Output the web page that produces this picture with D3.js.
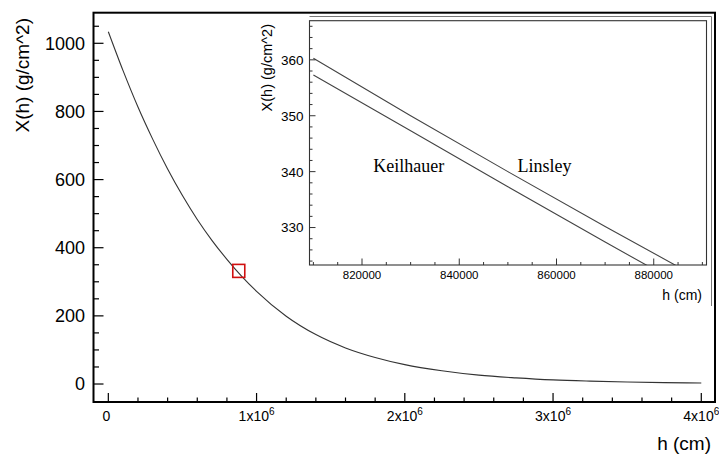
<!DOCTYPE html>
<html>
<head>
<meta charset="utf-8">
<script src="https://cdnjs.cloudflare.com/ajax/libs/d3/7.8.5/d3.min.js"></script>
<style>
  body { margin: 0; background: #fff; }
  svg { display: block; }
  .sans { font-family: "Liberation Sans", Arial, Helvetica, sans-serif; }
  .serif { font-family: "Liberation Serif", "Times New Roman", serif; }
</style>
</head>
<body>
<div id="chart"></div>
<script>
// atmospheric depth X(h) vs altitude h

// main curve
const heights = [0, 1e5, 2e5, 3e5, 4e5, 5e5, 6e5, 7e5, 8e5, 9e5, 1e6,
    1.2e6, 1.4e6, 1.6e6, 1.8e6, 2e6, 2.25e6, 2.5e6, 2.75e6, 3e6, 3.25e6, 3.5e6, 3.75e6, 4e6];
const depths = [1034, 919, 813, 718, 631, 553, 483, 421, 366, 316, 272,
    199, 145, 106, 78, 57, 39, 26, 18, 12, 8.5, 6, 4.2, 3];

// inset (zoom on the red box)
const insetHeights = [810000, 830000, 850000, 870000, 890000];
const linsleyDepths = [360.3, 350.0, 340.0, 330.2, 320.6];
const keilhauerDepths = [357.3, 347.3, 337.3, 327.4, 317.7];
const insetLabels = [
    { name: 'Keilhauer', h: 822300, x: 340 },
    { name: 'Linsley', h: 852000, x: 340 }
];

// red marker on the main curve
const markerPoint = { h: 880000, x: 332 };

// tick values
const xMajorTicks = [0, 1e6, 2e6, 3e6, 4e6];
const yMajorTicks = [0, 200, 400, 600, 800, 1000];
const insetXMajorTicks = [820000, 840000, 860000, 880000];
const insetYMajorTicks = [330, 340, 350, 360];

const W = 719, H = 457;

const svg = d3.select('#chart').append('svg')
    .attr('width', W)
    .attr('height', H)
    .attr('class', 'sans');

svg.append('rect').attr('width', W).attr('height', H).attr('fill', '#fff');

// ---------- main plot ----------
const frame = { left: 93.5, right: 715, top: 12.7, bottom: 402 };

const x = d3.scaleLinear().domain([-0.1e6, 4.0925e6]).range([frame.left, frame.right]);
const y = d3.scaleLinear().domain([-52.8, 1089.8]).range([frame.bottom, frame.top]);

const main = svg.append('g');

// minor ticks built from the major spacing
const xMinor = d3.range(0, 4.0001e6, 0.2e6).filter(v => !xMajorTicks.includes(Math.round(v)));
const yMinor = d3.range(0, 1089, 50).filter(v => !yMajorTicks.includes(v));

// x ticks (drawn inside, pointing up)
main.selectAll('.xmaj').data(xMajorTicks).enter().append('line')
    .attr('x1', d => x(d)).attr('x2', d => x(d))
    .attr('y1', frame.bottom).attr('y2', frame.bottom - 9)
    .attr('stroke', '#000').attr('stroke-width', 1.2);
main.selectAll('.xmin').data(xMinor).enter().append('line')
    .attr('x1', d => x(d)).attr('x2', d => x(d))
    .attr('y1', frame.bottom).attr('y2', frame.bottom - 4.5)
    .attr('stroke', '#000').attr('stroke-width', 1.2);

// y ticks
main.selectAll('.ymaj').data(yMajorTicks).enter().append('line')
    .attr('x1', frame.left).attr('x2', frame.left + 10)
    .attr('y1', d => y(d)).attr('y2', d => y(d))
    .attr('stroke', '#000').attr('stroke-width', 1.2);
main.selectAll('.ymin').data(yMinor).enter().append('line')
    .attr('x1', frame.left).attr('x2', frame.left + 5.5)
    .attr('y1', d => y(d)).attr('y2', d => y(d))
    .attr('stroke', '#000').attr('stroke-width', 1.2);

// y tick labels
main.selectAll('.ylab').data(yMajorTicks).enter().append('text')
    .attr('x', 85)
    .attr('y', d => y(d))
    .attr('dy', '0.36em')
    .attr('text-anchor', 'end')
    .attr('font-size', 18)
    .text(d => d);

// x tick labels, "Nx10^6"
main.selectAll('.xlab').data(xMajorTicks).enter().append('text')
    .attr('x', d => x(d) - (d === 0 ? 2 : 0))
    .attr('y', 421)
    .attr('text-anchor', 'middle')
    .attr('font-size', 14)
    .each(function(d) {
        const t = d3.select(this);
        if (d === 0) { t.text('0'); return; }
        t.append('tspan').text(`${d / 1e6}x10`);
        t.append('tspan').attr('dy', -6).attr('font-size', 10).text('6');
    });

// axis titles
main.append('text')
    .attr('x', 711).attr('y', 450)
    .attr('text-anchor', 'end')
    .attr('font-size', 19)
    .text('h (cm)');
main.append('text')
    .attr('transform', 'translate(28.5,18) rotate(-90)')
    .attr('text-anchor', 'end')
    .attr('font-size', 19)
    .text('X(h) (g/cm^2)');

// the curve
const mainLine = d3.line()
    .x((d, i) => x(heights[i]))
    .y(d => y(d))
    .curve(d3.curveMonotoneX);
main.append('path')
    .attr('d', mainLine(depths))
    .attr('fill', 'none')
    .attr('stroke', '#333')
    .attr('stroke-width', 1.1);

// red box marking the zoomed region
main.append('rect')
    .attr('x', x(markerPoint.h) - 6)
    .attr('y', y(markerPoint.x) - 6.5)
    .attr('width', 12)
    .attr('height', 13)
    .attr('fill', 'none')
    .attr('stroke', '#d01010')
    .attr('stroke-width', 1.6);

// ---------- inset ----------
const inFrame = { left: 309.5, right: 706.5, top: 20.7, bottom: 265 };

const ix = d3.scaleLinear().domain([809200, 890850]).range([inFrame.left, inFrame.right]);
const iy = d3.scaleLinear().domain([323.3, 367.0]).range([inFrame.bottom, inFrame.top]);

const inset = svg.append('g');

// pad background and its border
inset.append('rect')
    .attr('x', inFrame.left).attr('y', 16.5)
    .attr('width', 711.5 - inFrame.left).attr('height', 306 - 16.5)
    .attr('fill', '#fff');
inset.append('path')
    .attr('d', `M${inFrame.left},16.5 H711.5 V306`)
    .attr('fill', 'none')
    .attr('stroke', '#777')
    .attr('stroke-width', 1);

svg.append('clipPath').attr('id', 'inset-clip')
    .append('rect')
    .attr('x', inFrame.left).attr('y', inFrame.top)
    .attr('width', inFrame.right - inFrame.left)
    .attr('height', inFrame.bottom - inFrame.top);

const insetLine = d3.line()
    .x((d, i) => ix(insetHeights[i]))
    .y(d => iy(d));

[linsleyDepths, keilhauerDepths].forEach(series => {
    inset.append('path')
        .attr('d', insetLine(series))
        .attr('clip-path', 'url(#inset-clip)')
        .attr('fill', 'none')
        .attr('stroke', '#444')
        .attr('stroke-width', 1.1);
});

// inset frame
inset.append('rect')
    .attr('x', inFrame.left).attr('y', inFrame.top)
    .attr('width', inFrame.right - inFrame.left)
    .attr('height', inFrame.bottom - inFrame.top)
    .attr('fill', 'none')
    .attr('stroke', '#333')
    .attr('stroke-width', 1.1);

const ixMinor = d3.range(810000, 890001, 5000).filter(v => !insetXMajorTicks.includes(v));
const iyMinor = d3.range(324, 367, 2).filter(v => !insetYMajorTicks.includes(v));

inset.selectAll('.ixmaj').data(insetXMajorTicks).enter().append('line')
    .attr('x1', d => ix(d)).attr('x2', d => ix(d))
    .attr('y1', inFrame.bottom).attr('y2', inFrame.bottom - 6.5)
    .attr('stroke', '#333');
inset.selectAll('.ixmin').data(ixMinor).enter().append('line')
    .attr('x1', d => ix(d)).attr('x2', d => ix(d))
    .attr('y1', inFrame.bottom).attr('y2', inFrame.bottom - 3)
    .attr('stroke', '#333');
inset.selectAll('.iymaj').data(insetYMajorTicks).enter().append('line')
    .attr('x1', inFrame.left).attr('x2', inFrame.left + 6)
    .attr('y1', d => iy(d)).attr('y2', d => iy(d))
    .attr('stroke', '#333');
inset.selectAll('.iymin').data(iyMinor).enter().append('line')
    .attr('x1', inFrame.left).attr('x2', inFrame.left + 3)
    .attr('y1', d => iy(d)).attr('y2', d => iy(d))
    .attr('stroke', '#333');

inset.selectAll('.ixlab').data(insetXMajorTicks).enter().append('text')
    .attr('x', d => ix(d))
    .attr('y', 278.5)
    .attr('text-anchor', 'middle')
    .attr('font-size', 11.5)
    .text(d => d);
inset.selectAll('.iylab').data(insetYMajorTicks).enter().append('text')
    .attr('x', 303.5)
    .attr('y', d => iy(d))
    .attr('dy', '0.36em')
    .attr('text-anchor', 'end')
    .attr('font-size', 13.5)
    .text(d => d);

inset.append('text')
    .attr('x', 702).attr('y', 300)
    .attr('text-anchor', 'end')
    .attr('font-size', 14)
    .text('h (cm)');
inset.append('text')
    .attr('transform', 'translate(271.5,24) rotate(-90)')
    .attr('text-anchor', 'end')
    .attr('font-size', 14.5)
    .text('X(h) (g/cm^2)');

inset.selectAll('.model').data(insetLabels).enter().append('text')
    .attr('class', 'serif')
    .attr('x', d => ix(d.h))
    .attr('y', d => iy(d.x))
    .attr('font-size', 18)
    .text(d => d.name);

// main frame on top
svg.append('rect')
    .attr('x', frame.left).attr('y', frame.top)
    .attr('width', frame.right - frame.left)
    .attr('height', frame.bottom - frame.top)
    .attr('fill', 'none')
    .attr('stroke', '#000')
    .attr('stroke-width', 2);
</script>
</body>
</html>
